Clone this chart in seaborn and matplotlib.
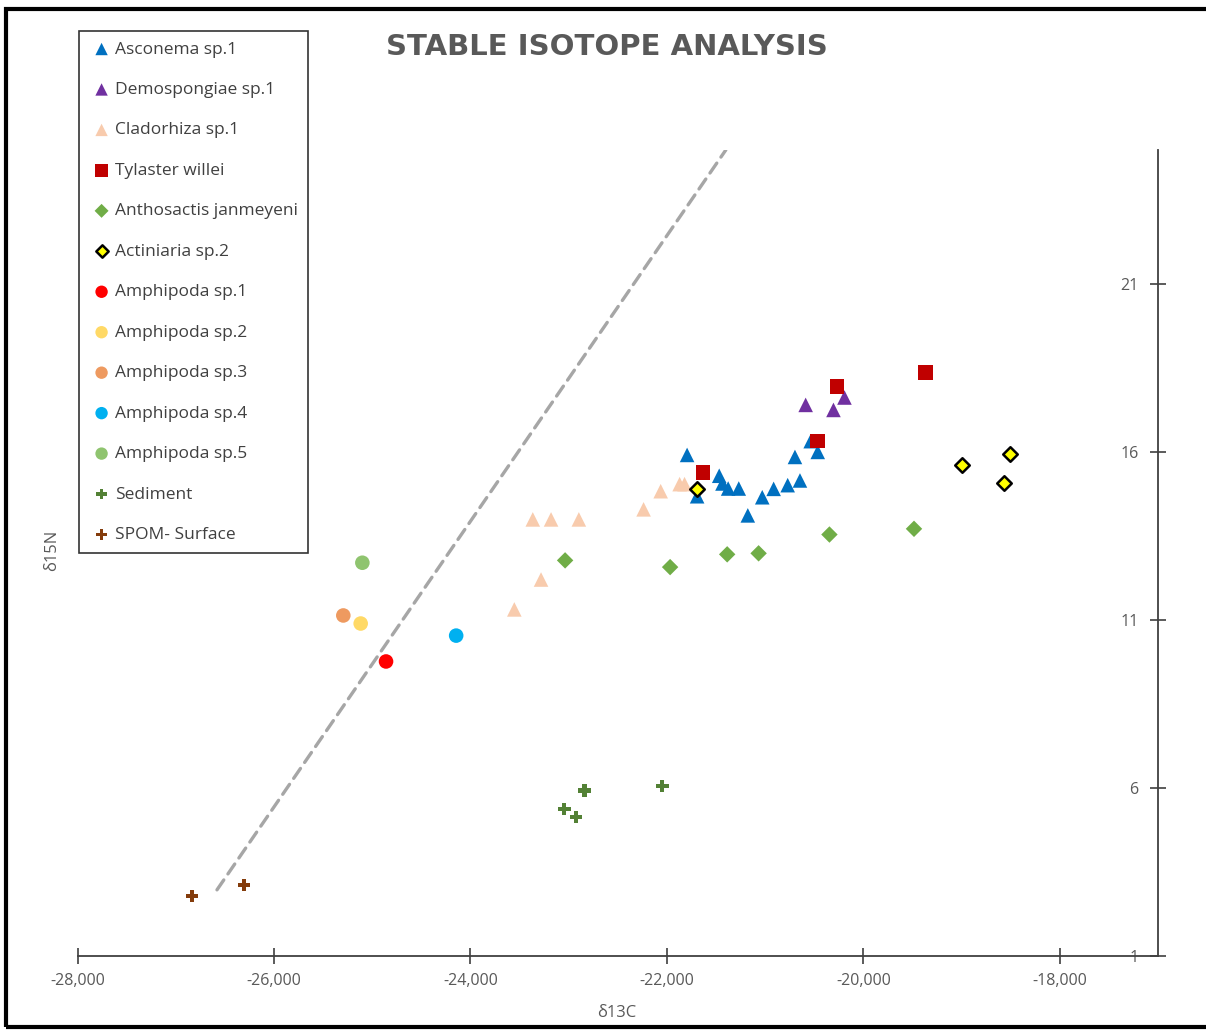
import matplotlib
matplotlib.use('Agg')
import matplotlib.pyplot as plt
from matplotlib.patches import Rectangle
from matplotlib.ticker import FuncFormatter
import pandas as pd
import seaborn as sns


# Data
groups = [
    'Asconema sp.1', 'Demospongiae sp.1', 'Cladorhiza sp.1', 'Tylaster willei',
    'Anthosactis janmeyeni', 'Actiniaria sp.2', 'Amphipoda sp.1', 'Amphipoda sp.2',
    'Amphipoda sp.3', 'Amphipoda sp.4', 'Amphipoda sp.5', 'Sediment', 'SPOM- Surface',
]

asconema_c = [-21794, -21692, -21467, -21434, -21376, -21268, -21176, -21029,
              -20913, -20770, -20645, -20696, -20536, -20464]
asconema_n = [15.92, 14.69, 15.30, 15.07, 14.92, 14.92, 14.12, 14.66,
              14.91, 15.02, 15.16, 15.86, 16.33, 16.01]

demospongiae_c = [-20587, -20304, -20192]
demospongiae_n = [17.41, 17.26, 17.63]

cladorhiza_c = [-23365, -23179, -22896, -23281, -23553, -22237, -22063, -21870, -21820]
cladorhiza_n = [14.00, 14.00, 14.00, 12.21, 11.32, 14.30, 14.84, 15.05, 15.05]

tylaster_c = [-20270, -20464, -21631, -19369]
tylaster_n = [17.96, 16.33, 15.39, 18.38]

anthosactis_c = [-19484, -20345, -23036, -21967, -21386, -21066]
anthosactis_n = [13.72, 13.55, 12.78, 12.58, 12.96, 12.99]

actiniaria_c = [-21692, -18992, -18508, -18569]
actiniaria_n = [14.92, 15.61, 15.94, 15.09]

amph1_c, amph1_n = [-24859], [9.77]
amph2_c, amph2_n = [-25117], [10.90]
amph3_c, amph3_n = [-25294], [11.14]
amph4_c, amph4_n = [-24145], [10.54]
amph5_c, amph5_n = [-25100], [12.71]

sediment_c = [-22839, -23043, -22927, -22046]
sediment_n = [5.93, 5.37, 5.14, 6.07]

spom_c = [-26832, -26304]
spom_n = [2.79, 3.12]

# dashed reference line end points
line_c = [-26580, -21400]
line_n = [2.97, 25.0]

x_ticks = [-28000, -26000, -24000, -22000, -20000, -18000]
y_ticks = [1, 6, 11, 16, 21]

values = [
    (asconema_c, asconema_n), (demospongiae_c, demospongiae_n),
    (cladorhiza_c, cladorhiza_n), (tylaster_c, tylaster_n),
    (anthosactis_c, anthosactis_n), (actiniaria_c, actiniaria_n),
    (amph1_c, amph1_n), (amph2_c, amph2_n), (amph3_c, amph3_n),
    (amph4_c, amph4_n), (amph5_c, amph5_n),
    (sediment_c, sediment_n), (spom_c, spom_n),
]

df = pd.concat(
    [pd.DataFrame({'d13C': c, 'd15N': n, 'group': g}) for g, (c, n) in zip(groups, values)],
    ignore_index=True,
)

# Marker styles: (marker, face colour, size, edge colour, edge width)
styles = {
    'Asconema sp.1': ('^', '#0070C0', 110, 'none', 0),
    'Demospongiae sp.1': ('^', '#7030A0', 110, 'none', 0),
    'Cladorhiza sp.1': ('^', '#F8CBAD', 110, 'none', 0),
    'Tylaster willei': ('s', '#C00000', 110, 'none', 0),
    'Anthosactis janmeyeni': ('D', '#70AD47', 70, 'none', 0),
    'Actiniaria sp.2': ('D', '#FFFF00', 55, 'black', 1.8),
    'Amphipoda sp.1': ('o', '#FF0000', 110, 'none', 0),
    'Amphipoda sp.2': ('o', '#FFD966', 110, 'none', 0),
    'Amphipoda sp.3': ('o', '#EE9A60', 110, 'none', 0),
    'Amphipoda sp.4': ('o', '#00B0F0', 110, 'none', 0),
    'Amphipoda sp.5': ('o', '#8FC46F', 110, 'none', 0),
    'Sediment': ('P', '#538135', 80, 'none', 0),
    'SPOM- Surface': ('P', '#843C0C', 80, 'none', 0),
}

sns.set_theme(style='white')
plt.rcParams['font.family'] = ['Open Sans', 'DejaVu Sans']
text_grey = '#595959'

fig = plt.figure(figsize=(12.06, 10.30), dpi=100)
ax = fig.add_axes([77.5 / 1206, 1 - 956 / 1030, (1158 - 77.5) / 1206, (956 - 150) / 1030])

# Dashed line first, so markers sit on top
sns.lineplot(x=line_c, y=line_n, ax=ax, color='#A6A6A6', linewidth=2.4,
             dashes=False, legend=False, zorder=1)
ax.lines[-1].set_linestyle((0, (3.6, 2.2)))
ax.lines[-1].set_dash_capstyle('round')

for g in groups:
    marker, color, size, edge, lw = styles[g]
    sns.scatterplot(data=df[df['group'] == g], x='d13C', y='d15N', ax=ax,
                    marker=marker, color=color, s=size, edgecolor=edge,
                    linewidth=lw, label=g, zorder=3)

ax.set_xlim(-28000, -17000)
ax.set_ylim(1, 25)
ax.set_xticks(x_ticks)
ax.set_yticks(y_ticks)
ax.xaxis.set_major_formatter(FuncFormatter(lambda v, p: f'{v:,.0f}'))

# Excel style: value axis crossing at the right end
for side in ['top', 'right']:
    ax.spines[side].set_visible(False)
ax.spines['left'].set_position(('data', -17000))
for side in ['left', 'bottom']:
    ax.spines[side].set_color('#404040')
    ax.spines[side].set_linewidth(1.3)

ax.tick_params(axis='both', which='major', bottom=True, left=True,
               direction='inout', length=12, width=1.2,
               color='#404040', labelsize=11.5, labelcolor=text_grey)
ax.tick_params(axis='x', pad=6)
ax.tick_params(axis='y', pad=8)
ax.set_xlabel('')
ax.set_ylabel('')
ax.grid(False)

fig.text(617 / 1206, 1 - 1013 / 1030, 'δ13C', ha='center', va='center',
         fontsize=12, color=text_grey)
fig.text(52 / 1206, 1 - 550 / 1030, 'δ15N', ha='center', va='center',
         fontsize=12, color=text_grey, rotation=90)

fig.text(607 / 1206, 1 - 47 / 1030, 'STABLE ISOTOPE ANALYSIS', ha='center',
         va='center', fontsize=21, fontweight='bold', color=text_grey,
         family='DejaVu Sans')

ax.get_legend().remove()
handles, labels = ax.get_legend_handles_labels()
leg = fig.legend(handles, labels, loc='upper left',
                 bbox_to_anchor=(79 / 1206, 1 - 31 / 1030),
                 frameon=True, fancybox=False, fontsize=12.5,
                 labelspacing=1.4, handlelength=1.4, handletextpad=0.05,
                 borderpad=0.6, borderaxespad=0, markerscale=0.85)
leg.get_frame().set_edgecolor('black')
leg.get_frame().set_linewidth(1.2)
for t in leg.get_texts():
    t.set_color('#404040')

# Outer chart border
fig.patches.append(Rectangle((6 / 1206, 1 - 1027 / 1030), 1.2, (1027 - 9) / 1030,
                             transform=fig.transFigure, fill=False,
                             edgecolor='black', linewidth=3))

fig.savefig('out.png', dpi=100)
